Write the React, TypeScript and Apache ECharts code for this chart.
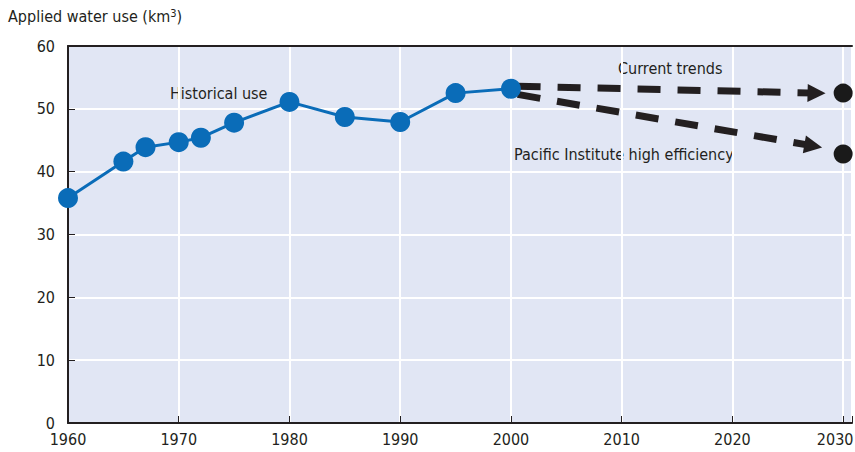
import React, { useEffect, useRef } from "react";
import * as echarts from "echarts";

const histYears = [1960, 1965, 1967, 1970, 1972, 1975, 1980, 1985, 1990, 1995, 2000];
const histValues = [35.8, 41.6, 43.9, 44.7, 45.4, 47.8, 51.1, 48.7, 47.9, 52.5, 53.2];
const projYear = 2030;
const currentTrend2030 = 52.5;
const highEfficiency2030 = 42.8;
const currentTrendArrow = [[2000.6, 53.6], [2027.6, 52.5]];
const efficiencyArrow = [[2000.6, 52.3], [2027.3, 44.1]];
const xTicks = [1960, 1970, 1980, 1990, 2000, 2010, 2020, 2030];

const FONT = "'Liberation Sans Narrow', 'DejaVu Sans Condensed', sans-serif";

export default function App() {
  const ref = useRef<HTMLDivElement>(null);
  useEffect(() => {
    if (!ref.current) return;
    const chart = echarts.init(ref.current, null, { renderer: "svg" });
    const textStyle = { fontFamily: FONT, fontSize: 16, fill: "#231f20" };
    chart.setOption({
      animation: false,
      backgroundColor: "#ffffff",
      grid: {
        left: 68,
        top: 46,
        right: 3,
        bottom: 29,
        containLabel: false,
        outerBoundsMode: "none",
        show: true,
        backgroundColor: "#e1e6f4",
        borderWidth: 0,
      },
      xAxis: [
        {
          type: "value",
          min: 1960,
          max: 2030.8,
          interval: 10,
          axisLine: { show: true, lineStyle: { color: "#231f20", width: 2 } },
          axisTick: { show: true, inside: true, length: 7, lineStyle: { color: "#231f20", width: 1 } },
          axisLabel: {
            color: "#231f20",
            fontFamily: FONT,
            fontSize: 16,
            margin: 8,
            showMaxLabel: true,
            hideOverlap: false,
            formatter: (v: number) => {
              const r = Math.round(v * 10) / 10;
              if (!xTicks.includes(r)) return "";
              return r === xTicks[xTicks.length - 1] ? `{last|${r}}` : String(r);
            },
            rich: {
              last: { color: "#231f20", fontFamily: FONT, fontSize: 16, padding: [0, 16, 0, 0] },
            },
          },
          splitLine: { show: true, lineStyle: { color: "#ffffff", width: 2 } },
        },
        {
          type: "value",
          position: "top",
          min: 1960,
          max: 2030.8,
          axisLine: { show: true, lineStyle: { color: "#231f20", width: 2 } },
          axisTick: { show: false },
          axisLabel: { show: false },
          splitLine: { show: false },
        },
      ],
      yAxis: {
        type: "value",
        min: 0,
        max: 60,
        interval: 10,
        axisLine: { show: true, lineStyle: { color: "#231f20", width: 2 } },
        axisTick: { show: true, inside: true, length: 7, lineStyle: { color: "#231f20", width: 1 } },
        axisLabel: { color: "#231f20", fontFamily: FONT, fontSize: 16, margin: 13, verticalAlign: "bottom", lineHeight: 16, padding: [0, 0, -8, 0] },
        splitLine: { show: true, lineStyle: { color: "#ffffff", width: 2 } },
      },
      graphic: [
        {
          type: "text",
          left: 8,
          top: 8,
          style: {
            text: "Applied water use (km{sup|3})",
            font: `16px ${FONT}`,
            fill: "#231f20",
            rich: { sup: { fontFamily: FONT, fontSize: 11, verticalAlign: "top", padding: [0, 0, 6, 0] } },
          } as any,
        },
        { type: "text", left: 170, top: 85, style: { ...textStyle, text: "Historical use" } },
        { type: "text", left: 618, top: 60, style: { ...textStyle, text: "Current trends" } },
        { type: "text", left: 514, top: 146, style: { ...textStyle, text: "Pacific Institute high efficiency" } },
      ],
      series: [
        {
          type: "line",
          data: [],
          markLine: {
            silent: true,
            symbol: ["none", "triangle"],
            symbolSize: [18, 18],
            label: { show: false },
            lineStyle: { color: "#231f20", width: 7, type: [23, 17], cap: "butt", opacity: 1 },
            itemStyle: { color: "#231f20", opacity: 1 },
            data: [
              [{ coord: currentTrendArrow[0] }, { coord: currentTrendArrow[1] }],
              [{ coord: efficiencyArrow[0] }, { coord: efficiencyArrow[1] }],
            ],
          },
        },
        {
          type: "line",
          data: histYears.map((y, i) => [y, histValues[i]]),
          symbol: "circle",
          symbolSize: 20,
          lineStyle: { color: "#0a6cb8", width: 3 },
          itemStyle: { color: "#0a6cb8" },
          z: 5,
        },
        {
          type: "scatter",
          data: [
            [projYear, currentTrend2030],
            [projYear, highEfficiency2030],
          ],
          symbolSize: 19,
          itemStyle: { color: "#1a1a1a", opacity: 1 },
        },
      ],
    });
    return () => chart.dispose();
  }, []);
  return <div ref={ref} style={{ width: 855, height: 452, position: "absolute", left: 0, top: 0 }} />;
}
